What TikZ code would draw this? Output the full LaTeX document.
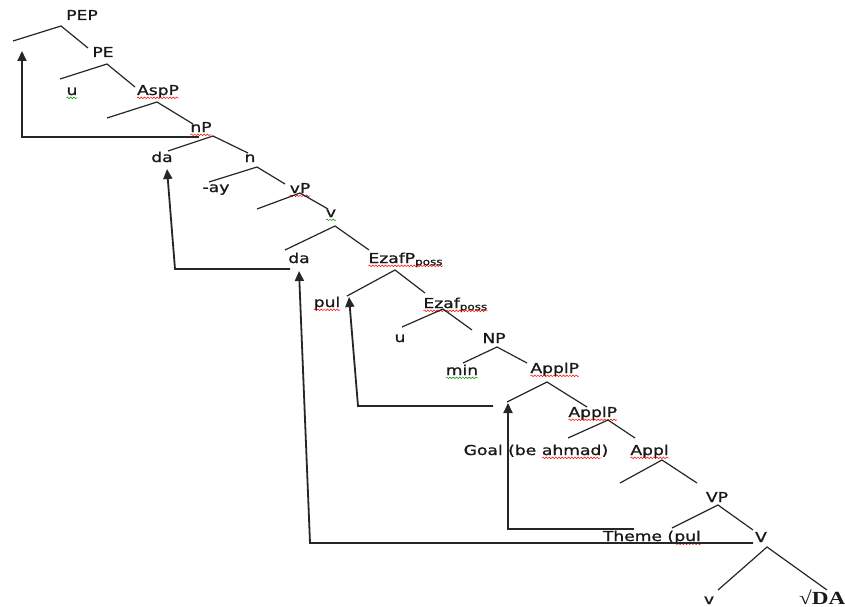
\documentclass[tikz,border=0pt]{standalone}
\usepackage{fontspec}
\setmainfont[FakeStretch=1.25, FakeBold=1.2]{DejaVu Sans}
\newfontfamily\rootfont[FakeStretch=1.25]{Liberation Serif}
\usepackage{tikz}
\usetikzlibrary {arrows.meta, decorations.pathmorphing}
\newcommand\wavy[2]{\tikz[baseline=(w.base)]{\node[inner sep=0pt, outer sep=0pt, anchor=base] (w) {#2};
        \draw[#1, line width=0.5pt, decorate, decoration={snake, amplitude=0.8pt, segment length=3.2pt}] ([yshift=-2.8pt]w.base west) -- ([yshift=-2.8pt]w.base east);}}
\newcommand\redwave[1]{\wavy{red}{#1}}
\newcommand\greenwave[1]{\wavy{green!55!black}{#1}}

\begin{document}
\begin{tikzpicture} [x = 1pt, y = -1pt]
        %style
        \tikzset{word/.style = {inner sep=0pt, anchor=base, text=black!90, font=\fontsize{13.7}{16}\selectfont}}
        \tikzset{branch/.style = {draw=black!85, line width=1.2pt}}
        \tikzset{move/.style = {draw=black!85, line width=1.8pt, -{Stealth[length=10pt, width=9pt, inset=0pt]}}}
        \useasboundingbox (0,0) rectangle (845,607);
        %labels
        \node[word]    (pep)    at  (82,20)   {PEP};
        \node[word]    (pe)     at  (103,57)  {PE};
        \node[word]    (uA)     at  (72,95)   {\greenwave{u}};
        \node[word]    (aspP)   at  (158,95)  {\redwave{AspP}};
        \node[word]    (nP)     at  (201,132) {\redwave{nP}};
        \node[word]    (daA)    at  (162,162) {da};
        \node[word]    (nHead)  at  (250,162) {n};
        \node[word]    (ay)     at  (216,192) {-ay};
        \node[word]    (vP)     at  (300,193) {\redwave{vP}};
        \node[word]    (vHead)  at  (331,217) {\greenwave{v}};
        \node[word]    (daB)    at  (299,263) {da};
        \node[word, anchor=base west] (ezafP) at (368,263) {\redwave{EzafP\textsubscript{poss}}};
        \node[word]    (pulA)   at  (327,307) {\redwave{pul}};
        \node[word, anchor=base west] (ezaf)  at (423,308) {\redwave{Ezaf\textsubscript{poss}}};
        \node[word]    (uB)     at  (400,342) {u};
        \node[word]    (np)     at  (494,343) {NP};
        \node[word]    (min)    at  (462,375) {\greenwave{min}};
        \node[word, anchor=base west] (applPA) at (530,373) {\redwave{ApplP}};
        \node[word, anchor=base west] (applPB) at (568,417) {\redwave{ApplP}};
        \node[word]    (goal)   at  (536,455) {Goal (be \redwave{ahmad})};
        \node[word, anchor=base west] (appl)   at (630,455) {\redwave{Appl}};
        \node[word]    (vp)     at  (717,502) {VP};
        \node[word]    (theme)  at  (652,541) {Theme (\redwave{pul}};
        \node[word]    (vBar)   at  (761,542) {V};
        \node[word]    (vSmall) at  (709,604) {v};
        \node[word, anchor=base west] (root) at (799,604) {\fontsize{18.5}{22}\rootfont\bfseries √DA};
        %branches
        \coordinate (pepL)  at (13,41);   \coordinate (pepT)  at (61,26);   \coordinate (pepR)  at (88,48);
        \coordinate (peL)   at (60,79);   \coordinate (peT)   at (107,64);  \coordinate (peR)   at (135,87);
        \coordinate (aspL)  at (107,118); \coordinate (aspT)  at (157,102); \coordinate (aspR)  at (193,124);
        \coordinate (npL)   at (168,151); \coordinate (npT)   at (213,136); \coordinate (npR)   at (248,153);
        \coordinate (nL)    at (209,182); \coordinate (nT)    at (257,167); \coordinate (nR)    at (285,184);
        \coordinate (vpL)   at (257,209); \coordinate (vpT)   at (300,193); \coordinate (vpR)   at (328,209);
        \coordinate (vL)    at (285,250); \coordinate (vT)    at (335,226); \coordinate (vR)    at (369,250);
        \coordinate (ezpL)  at (347,296); \coordinate (ezpT)  at (395,270); \coordinate (ezpR)  at (425,293);
        \coordinate (ezL)   at (402,327); \coordinate (ezT)   at (443,309); \coordinate (ezR)   at (472,330);
        \coordinate (nounL) at (463,363); \coordinate (nounT) at (497,347); \coordinate (nounR) at (527,363);
        \coordinate (apaL)  at (507,402); \coordinate (apaT)  at (547,382); \coordinate (apaR)  at (587,407);
        \coordinate (apbL)  at (568,438); \coordinate (apbT)  at (608,420); \coordinate (apbR)  at (635,438);
        \coordinate (apL)   at (620,483); \coordinate (apT)   at (662,460); \coordinate (apR)   at (697,483);
        \coordinate (vbpL)  at (672,528); \coordinate (vbpT)  at (718,505); \coordinate (vbpR)  at (753,530);
        \coordinate (vbL)   at (718,590); \coordinate (vbT)   at (767,547); \coordinate (vbR)   at (827,590);
        \draw[branch] (pepL) -- (pepT) -- (pepR);
        \draw[branch] (peL) -- (peT) -- (peR);
        \draw[branch] (aspL) -- (aspT) -- (aspR);
        \draw[branch] (npL) -- (npT) -- (npR);
        \draw[branch] (nL) -- (nT) -- (nR);
        \draw[branch] (vpL) -- (vpT) -- (vpR);
        \draw[branch] (vL) -- (vT) -- (vR);
        \draw[branch] (ezpL) -- (ezpT) -- (ezpR);
        \draw[branch] (ezL) -- (ezT) -- (ezR);
        \draw[branch] (nounL) -- (nounT) -- (nounR);
        \draw[branch] (apaL) -- (apaT) -- (apaR);
        \draw[branch] (apbL) -- (apbT) -- (apbR);
        \draw[branch] (apL) -- (apT) -- (apR);
        \draw[branch] (vbpL) -- (vbpT) -- (vbpR);
        \draw[branch] (vbL) -- (vbT) -- (vbR);
        %movements
        \coordinate (m1a) at (199,137); \coordinate (m1b) at (22,137);  \coordinate (m1c) at (22,51);
        \coordinate (m2a) at (290,269); \coordinate (m2b) at (175,269); \coordinate (m2c) at (167,169);
        \coordinate (m3a) at (753,543); \coordinate (m3b) at (310,543); \coordinate (m3c) at (299,271);
        \coordinate (m4a) at (493,406); \coordinate (m4b) at (358,406); \coordinate (m4c) at (349,297);
        \coordinate (m5a) at (634,529); \coordinate (m5b) at (508,529); \coordinate (m5c) at (508,403);
        \draw [move] (m1a) -- (m1b) -- (m1c);
        \draw [move] (m2a) -- (m2b) -- (m2c);
        \draw [move] (m3a) -- (m3b) -- (m3c);
        \draw [move] (m4a) -- (m4b) -- (m4c);
        \draw [move] (m5a) -- (m5b) -- (m5c);
\end{tikzpicture}
\end{document}
